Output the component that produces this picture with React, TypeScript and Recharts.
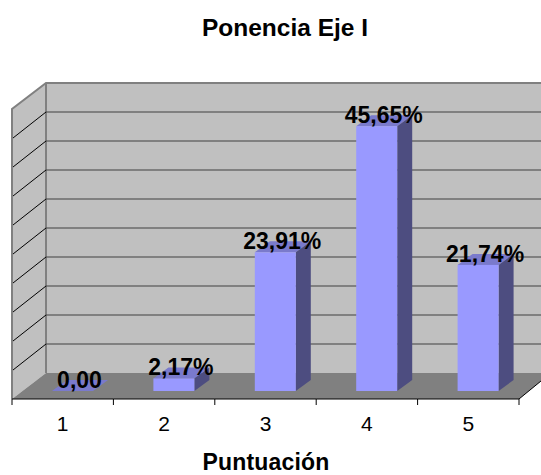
import { BarChart, Bar, XAxis, YAxis, ReferenceArea, ReferenceLine, LabelList } from "recharts";

const categories = ["1", "2", "3", "4", "5"];
const scores = [0, 2.17, 23.91, 45.65, 21.74];
const valueLabels = ["0,00", "2,17%", "23,91%", "45,65%", "21,74%"];
const gridValues = [5, 10, 15, 20, 25, 30, 35, 40, 45];

const data = categories.map((name, i) => ({ name, score: scores[i], label: valueLabels[i] }));

const FONT = '"Liberation Sans", Arial, sans-serif';
const WALL = "#c0c0c0";
const FLOOR = "#808080";
const BAND = 101.4;

// the back wall sits up and right of the bar plane
const WALL_DX = 34;
const WALL_DY = -18;
const FLOOR_DROP = 8;
const BAR_SHIFT = 10;
const BAR_DX = 15;
const BAR_DY = -11;

const Room = (props: any) => {
  const { x, y, width, height } = props;
  const bottom = y + height;
  const left = x;
  const right = x + width;
  return (
    <g>
      <polygon
        points={`${left},${y + FLOOR_DROP} ${left + WALL_DX},${y + WALL_DY} 541,${y + WALL_DY} 541,${bottom + WALL_DY} ${left + WALL_DX},${bottom + WALL_DY} ${left},${bottom + FLOOR_DROP}`}
        fill={WALL}
      />
      <polygon
        points={`${left},${bottom + FLOOR_DROP} ${left + WALL_DX},${bottom + WALL_DY} 541,${bottom + WALL_DY} 541,${bottom - 10} ${right},${bottom + FLOOR_DROP}`}
        fill={FLOOR}
      />
      <line x1={right} y1={bottom + FLOOR_DROP} x2={541} y2={bottom - 10} stroke="#000" strokeWidth={1} />
      <polyline
        points={`${left},${bottom + FLOOR_DROP} ${left},${y + FLOOR_DROP} ${left + WALL_DX},${y + WALL_DY} 541,${y + WALL_DY}`}
        fill="none"
        stroke={FLOOR}
        strokeWidth={2}
      />
      <line x1={left + WALL_DX} y1={y + WALL_DY} x2={left + WALL_DX} y2={bottom + WALL_DY} stroke={FLOOR} strokeWidth={2} />
    </g>
  );
};

const GridStep = (props: any) => {
  const { x1, y1 } = props;
  return (
    <g>
      <line x1={x1 + WALL_DX} y1={y1 + WALL_DY} x2={541} y2={y1 + WALL_DY} stroke="#404040" strokeWidth={1} />
      <line x1={x1 + 1} y1={y1 + FLOOR_DROP} x2={x1 + WALL_DX} y2={y1 + WALL_DY} stroke="#000" strokeWidth={1} />
    </g>
  );
};

const Box = (props: any) => {
  const { x, y, width, height } = props;
  const left = x + BAR_SHIFT;
  const right = left + width;
  const bottom = y + height;
  return (
    <g>
      <polygon
        points={`${left},${y} ${left + BAR_DX},${y + BAR_DY} ${right + BAR_DX},${y + BAR_DY} ${right},${y}`}
        fill="#7a7acc"
      />
      <polygon
        points={`${right},${y} ${right + BAR_DX},${y + BAR_DY} ${right + BAR_DX},${bottom + BAR_DY} ${right},${bottom}`}
        fill="#4d4d80"
      />
      <rect x={left} y={y} width={width} height={height} fill="#9999ff" />
    </g>
  );
};

const ValueLabel = (props: any) => {
  const { x, y, width, value } = props;
  return (
    <text x={x + width / 2 + 17} y={y - 3} textAnchor="middle" fontFamily={FONT} fontWeight="bold" fontSize={23} fill="#000">
      {value}
    </text>
  );
};

const CategoryTick = (props: any) => {
  const { x, payload, index } = props;
  const axisY = 399;
  const tickX = x - BAND / 2;
  return (
    <g>
      <line x1={tickX} y1={axisY} x2={tickX + BAND} y2={axisY} stroke="#000" />
      <line x1={tickX} y1={axisY} x2={tickX} y2={axisY + 6} stroke="#000" />
      {index === categories.length - 1 && (
        <line x1={tickX + BAND} y1={axisY} x2={tickX + BAND} y2={axisY + 6} stroke="#000" />
      )}
      <text x={x} y={431} textAnchor="middle" fontFamily={FONT} fontSize={21} fill="#000">
        {payload.value}
      </text>
    </g>
  );
};

export default function App() {
  return (
    <div style={{ position: "absolute", left: 0, top: 0, width: 541, height: 475 }}>
      <BarChart
        width={541}
        height={475}
        data={data}
        margin={{ top: 101, right: 22, bottom: 40, left: 12 }}
        barSize={41}
        style={{ fontFamily: FONT }}
      >
        <text x={285} y={36} textAnchor="middle" fontFamily={FONT} fontWeight="bold" fontSize={24.5} fill="#000">
          Ponencia Eje I
        </text>
        <text x={266} y={470} textAnchor="middle" fontFamily={FONT} fontWeight="bold" fontSize={23} letterSpacing={0.2} fill="#000">
          Puntuación
        </text>
        <XAxis dataKey="name" axisLine={false} tickLine={false} tick={<CategoryTick />} interval={0} height={44} />
        <YAxis domain={[0, 50]} hide />
        <ReferenceArea y1={0} y2={50} shape={<Room />} zIndex={50} ifOverflow="visible" />
        {gridValues.map((v) => (
          <ReferenceLine key={v} y={v} shape={<GridStep />} zIndex={60} ifOverflow="visible" />
        ))}
        <Bar dataKey="score" shape={<Box />} isAnimationActive={false}>
          <LabelList dataKey="label" content={<ValueLabel />} />
        </Bar>
      </BarChart>
    </div>
  );
}
